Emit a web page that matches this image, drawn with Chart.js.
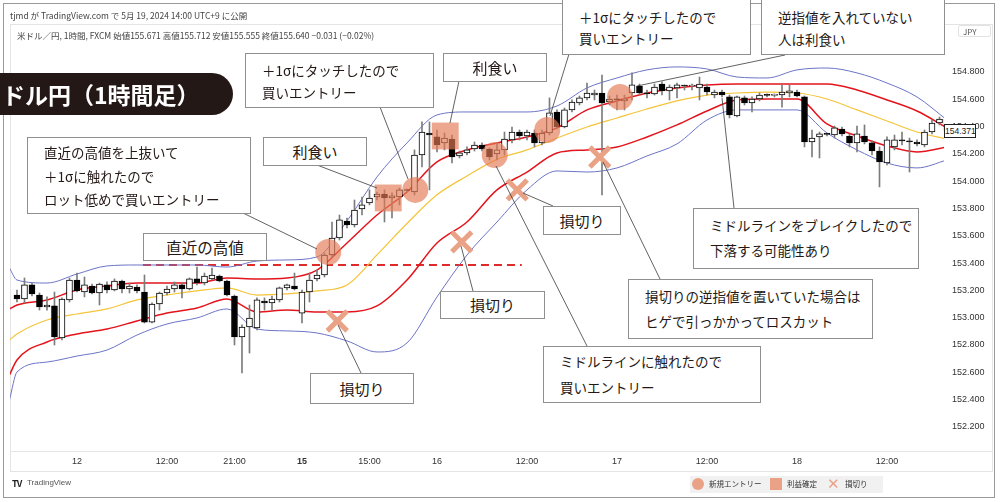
<!DOCTYPE html>
<html lang="ja">
<head>
<meta charset="utf-8">
<title>ドル円（1時間足）</title>
<script src="https://cdn.jsdelivr.net/npm/chart.js@4.4.1/dist/chart.umd.min.js"></script>
<style>
  body { margin: 0; background: #fff; }
  #wrap { position: relative; width: 1000px; height: 502px; overflow: hidden; font-family: "Noto Sans CJK JP", "Noto Sans", sans-serif; color: #231815; }
  canvas { position: absolute; left: 0; top: 0; }
  .abs { position: absolute; white-space: nowrap; }
  .frame { position: absolute; box-sizing: border-box; }
  .note { position: absolute; box-sizing: border-box; background: #fff; border: 1px solid #8f8f8f; font-size: 13.5px; padding-left: 16px; white-space: nowrap; }
  .note.one { padding: 0; text-align: center; font-size: 15px; }
  .hdr { font-size: 8.5px; color: #444; }
  .leg { font-size: 7.5px; line-height: 12px; color: #333; }
</style>
</head>
<body>
<div id="wrap">
  <div class="frame" style="left:3px;top:3px;width:992px;height:495px;border:1px solid #9a9a9a"></div>
  <div class="frame" style="left:10px;top:24px;width:983px;height:448px;border:1px solid #e4e4e4"></div>
  <div class="frame" style="left:10px;top:451px;width:983px;height:1px;background:#e6e6e6"></div>

  <canvas id="chart" width="1000" height="502"></canvas>

  <div class="abs hdr" style="left:10px;top:9px">tjmd が TradingView.com で 5月 19, 2024 14:00 UTC+9 に公開</div>
  <div class="abs hdr" style="left:17px;top:29px">米ドル／円, 1時間, FXCM 始値155.671 高値155.712 安値155.555 終値155.640 −0.031 (−0.02%)</div>
  <div class="abs" style="left:958px;top:25px;width:33px;height:12px;border:1px solid #e2e2e2;border-radius:2px;font-size:8px;line-height:12px;color:#555;padding-left:4px;box-sizing:border-box">JPY</div>
  <div class="abs" style="left:944px;top:124px;width:32px;height:14px;border:1px solid #222;background:#fff;font-size:8.5px;line-height:12px;text-align:center;box-sizing:border-box;font-family:'Liberation Sans',sans-serif">154.371</div>

  <div class="abs" style="left:-30px;top:73px;width:263px;height:42px;background:#231815;border-radius:21px"></div>
  <div class="abs" style="left:2px;top:73px;height:42px;line-height:42px;color:#fff;font-size:23px;font-weight:bold">ドル円（1時間足）</div>

  <div class="note" style="left:27px;top:137px;width:224px;height:77px;padding-top:3px;line-height:23.5px">直近の高値を上抜いて<br>＋1σに触れたので<br>ロット低めで買いエントリー</div>
  <div class="note one" style="left:143px;top:233px;width:124px;height:28px;line-height:26px;font-size:15.5px">直近の高値</div>
  <div class="note one" style="left:263px;top:137px;width:104px;height:29px;line-height:27px">利食い</div>
  <div class="note" style="left:245px;top:53px;width:189px;height:55px;padding-top:5px;line-height:22px">＋1σにタッチしたので<br>買いエントリー</div>
  <div class="note one" style="left:443px;top:53px;width:104px;height:29px;line-height:27px">利食い</div>
  <div class="note" style="left:562px;top:-1px;width:189px;height:56px;padding-top:7px;line-height:21px">＋1σにタッチしたので<br>買いエントリー</div>
  <div class="note" style="left:761px;top:-1px;width:184px;height:56px;padding-top:6px;line-height:22px">逆指値を入れていない<br>人は利食い</div>
  <div class="note one" style="left:440px;top:291px;width:105px;height:28px;line-height:26px">損切り</div>
  <div class="note one" style="left:543px;top:206px;width:78px;height:29px;line-height:27px">損切り</div>
  <div class="note" style="left:693px;top:208px;width:226px;height:61px;padding-top:4px;line-height:25px">ミドルラインをブレイクしたので<br>下落する可能性あり</div>
  <div class="note" style="left:628px;top:279px;width:245px;height:60px;padding-top:4px;line-height:25px">損切りの逆指値を置いていた場合は<br>ヒゲで引っかかってロスカット</div>
  <div class="note" style="left:543px;top:346px;width:218px;height:57px;padding-top:1px;line-height:26px">ミドルラインに触れたので<br>買いエントリー</div>
  <div class="note one" style="left:310px;top:373px;width:104px;height:31px;line-height:29px">損切り</div>

  <div class="abs" style="left:12px;top:477px;font-size:9px;color:#222;font-weight:bold;letter-spacing:-1px">TV</div>
  <div class="abs" style="left:27px;top:478px;font-size:8px;color:#555;font-family:'Liberation Sans',sans-serif">TradingView</div>

  <div class="abs" style="left:690px;top:476px;width:193px;height:17px;background:#f1f1f1"></div>
  <div class="abs" style="left:692px;top:478px;width:12px;height:12px;border-radius:6px;background:#eaa286"></div>
  <div class="abs leg" style="left:709px;top:478px">新規エントリー</div>
  <div class="abs" style="left:770px;top:478px;width:12px;height:12px;background:#eaa286"></div>
  <div class="abs leg" style="left:787px;top:478px">利益確定</div>
  <div class="abs" style="left:827px;top:474px;font-size:15px;line-height:18px;color:#eaa286">✕</div>
  <div class="abs leg" style="left:845px;top:478px">損切り</div>
</div>

<script>
// ── AXES
const xTickIdx = [8, 20, 29, 38, 47, 56, 68, 80, 92, 104, 116];
const xTickLabels = ["12", "12:00", "21:00", "15", "15:00", "16", "12:00", "17", "12:00", "18", "12:00"];
const yTicks = [152.2, 152.4, 152.6, 152.8, 153.0, 153.2, 153.4, 153.6, 153.8, 154.0, 154.2, 154.4, 154.6, 154.8];

// ── CANDLES (1 hour each)
const opens = [
  153.166, 153.137, 153.240, 153.166, 153.078, 153.086, 152.851, 153.130, 153.276, 153.188,
  153.232, 153.181, 153.240, 153.203, 153.269, 153.210, 153.225, 153.188, 152.968, 153.100,
  153.181, 153.210, 153.240, 153.210, 153.284, 153.254, 153.284, 153.305, 153.269, 153.159,
  152.859, 152.932, 152.925, 153.122, 153.108, 153.130, 153.218, 153.232, 153.034, 153.188,
  153.284, 153.313, 153.459, 153.584, 153.708, 153.679, 153.796, 153.840, 153.884, 153.906,
  153.877, 153.884, 153.936, 153.921, 154.192, 154.353, 154.324, 154.280, 154.309, 154.185,
  154.207, 154.236, 154.265, 154.236, 154.199, 154.229, 154.302, 154.360, 154.331, 154.353,
  154.280, 154.353, 154.507, 154.397, 154.522, 154.573, 154.610, 154.631, 154.646, 154.580,
  154.602, 154.588, 154.646, 154.697, 154.646, 154.639, 154.712, 154.661, 154.683, 154.697,
  154.697, 154.683, 154.690, 154.631, 154.653, 154.617, 154.478, 154.610, 154.573, 154.602,
  154.631, 154.628, 154.631, 154.646, 154.653, 154.617, 154.287, 154.324, 154.346, 154.338,
  154.382, 154.331, 154.280, 154.331, 154.280, 154.221, 154.133, 154.251, 154.295, 154.295,
  154.287, 154.265, 154.360, 154.426, 154.455
];
const highs = [
  153.203, 153.291, 153.254, 153.181, 153.152, 153.188, 153.145, 153.291, 153.327, 153.298,
  153.247, 153.254, 153.262, 153.284, 153.276, 153.254, 153.240, 153.313, 153.108, 153.188,
  153.232, 153.262, 153.254, 153.291, 153.371, 153.327, 153.364, 153.313, 153.276, 153.166,
  152.947, 153.093, 153.145, 153.145, 153.159, 153.225, 153.247, 153.327, 153.203, 153.327,
  153.349, 153.474, 153.701, 153.752, 153.730, 153.862, 153.884, 153.936, 153.921, 153.936,
  153.914, 153.950, 153.943, 154.229, 154.434, 154.434, 154.375, 154.353, 154.338, 154.221,
  154.251, 154.287, 154.280, 154.243, 154.280, 154.360, 154.397, 154.375, 154.375, 154.375,
  154.375, 154.610, 154.522, 154.536, 154.595, 154.624, 154.719, 154.668, 154.778, 154.624,
  154.631, 154.631, 154.793, 154.712, 154.668, 154.712, 154.727, 154.705, 154.719, 154.705,
  154.712, 154.763, 154.712, 154.668, 154.668, 154.631, 154.624, 154.624, 154.617, 154.646,
  154.639, 154.639, 154.705, 154.705, 154.668, 154.624, 154.375, 154.360, 154.353, 154.404,
  154.397, 154.346, 154.404, 154.412, 154.295, 154.251, 154.324, 154.338, 154.360, 154.316,
  154.302, 154.375, 154.448, 154.470, 154.470
];
const lows = [
  153.115, 153.108, 153.159, 153.056, 153.056, 152.800, 152.837, 153.115, 153.188, 153.152,
  153.174, 153.093, 153.181, 153.196, 153.181, 153.181, 153.181, 152.961, 152.961, 153.056,
  153.166, 153.188, 153.145, 153.203, 153.240, 153.240, 153.276, 153.262, 153.159, 152.800,
  152.595, 152.741, 152.910, 153.056, 153.056, 153.115, 153.203, 153.203, 152.961, 153.115,
  153.269, 153.298, 153.445, 153.569, 153.657, 153.664, 153.752, 153.826, 153.862, 153.701,
  153.730, 153.826, 153.921, 153.899, 154.104, 153.936, 154.214, 154.229, 154.133, 154.170,
  154.192, 154.221, 154.221, 154.155, 154.155, 154.192, 154.280, 154.302, 154.302, 154.251,
  154.265, 154.338, 154.382, 154.390, 154.507, 154.558, 154.595, 154.595, 153.899, 154.558,
  154.522, 154.522, 154.595, 154.631, 154.610, 154.631, 154.631, 154.595, 154.610, 154.668,
  154.668, 154.595, 154.631, 154.610, 154.617, 154.463, 154.470, 154.558, 154.507, 154.588,
  154.617, 154.617, 154.543, 154.617, 154.617, 154.251, 154.177, 154.170, 154.331, 154.316,
  154.331, 154.251, 154.214, 154.273, 154.192, 153.958, 154.119, 154.229, 154.265, 154.067,
  154.258, 154.251, 154.346, 154.412, 154.331
];
const closes = [
  153.137, 153.240, 153.174, 153.078, 153.093, 152.859, 153.137, 153.276, 153.196, 153.240,
  153.181, 153.247, 153.203, 153.269, 153.210, 153.232, 153.196, 152.968, 153.100, 153.181,
  153.210, 153.240, 153.210, 153.284, 153.254, 153.305, 153.313, 153.269, 153.166, 152.859,
  152.932, 152.998, 153.130, 153.108, 153.137, 153.218, 153.240, 153.210, 153.188, 153.276,
  153.313, 153.459, 153.584, 153.716, 153.679, 153.789, 153.826, 153.877, 153.906, 153.877,
  153.892, 153.936, 153.932, 154.192, 154.360, 154.338, 154.265, 154.316, 154.177, 154.207,
  154.229, 154.265, 154.236, 154.177, 154.229, 154.309, 154.360, 154.331, 154.360, 154.280,
  154.353, 154.500, 154.397, 154.522, 154.580, 154.610, 154.646, 154.646, 154.573, 154.602,
  154.595, 154.602, 154.705, 154.646, 154.639, 154.690, 154.661, 154.690, 154.705, 154.697,
  154.700, 154.712, 154.653, 154.653, 154.631, 154.485, 154.617, 154.573, 154.602, 154.631,
  154.628, 154.631, 154.653, 154.661, 154.624, 154.287, 154.316, 154.346, 154.343, 154.390,
  154.346, 154.280, 154.346, 154.287, 154.221, 154.141, 154.302, 154.302, 154.295, 154.287,
  154.273, 154.360, 154.426, 154.455, 154.371
];

// ── BOLLINGER BANDS (read every 4 candles)
const bandIdx = [-1, 0, 4, 8, 12, 16, 20, 24, 28, 32, 36, 40, 44, 48, 52, 56, 60, 64, 68, 72, 76, 80, 84, 88, 92, 96, 100, 104, 108, 112, 116, 120, 124];
const upper2 = [153.364, 153.276, 153.254, 153.320, 153.379, 153.386, 153.386, 153.386, 153.371, 153.415, 153.423, 153.445, 153.708, 154.031, 154.280, 154.485, 154.507, 154.507, 154.507, 154.551, 154.683, 154.756, 154.815, 154.837, 154.822, 154.763, 154.756, 154.815, 154.829, 154.793, 154.719, 154.617, 154.448];
const upper1 = [153.064, 153.093, 153.130, 153.203, 153.232, 153.254, 153.254, 153.254, 153.291, 153.284, 153.291, 153.349, 153.547, 153.752, 153.921, 154.141, 154.229, 154.280, 154.324, 154.390, 154.522, 154.588, 154.646, 154.683, 154.705, 154.712, 154.712, 154.712, 154.712, 154.668, 154.595, 154.514, 154.390];
const middle = [152.837, 152.881, 152.983, 153.027, 153.064, 153.130, 153.166, 153.196, 153.218, 153.166, 153.174, 153.196, 153.240, 153.460, 153.690, 153.900, 154.038, 154.160, 154.229, 154.316, 154.397, 154.463, 154.529, 154.588, 154.631, 154.646, 154.653, 154.646, 154.602, 154.522, 154.441, 154.360, 154.309];
const lower1 = [152.580, 152.690, 152.822, 152.881, 152.917, 152.976, 153.034, 153.071, 153.137, 153.042, 153.056, 153.042, 153.042, 153.086, 153.276, 153.547, 153.701, 153.936, 154.067, 154.207, 154.229, 154.251, 154.324, 154.412, 154.514, 154.595, 154.602, 154.602, 154.419, 154.331, 154.258, 154.214, 154.251];
const lower2 = [152.397, 152.602, 152.675, 152.719, 152.763, 152.873, 152.954, 152.998, 153.064, 152.917, 152.903, 152.888, 152.830, 152.749, 152.815, 153.152, 153.459, 153.701, 153.936, 154.075, 154.067, 154.097, 154.185, 154.273, 154.448, 154.522, 154.522, 154.522, 154.353, 154.229, 154.133, 154.097, 154.155];

// ── TRADE MARKERS
const recentHigh = 153.386;
const recentHighSpan = [16.8, 67.3];
const entryIdx = [41.5, 53.1, 63.7, 70.7, 80.4];
const entryPrice = [153.481, 153.936, 154.192, 154.375, 154.617];
const exitIdx = [49.5, 57.1];
const exitPrice = [153.877, 154.331];
const stopIdx = [42.7, 59.3, 66.7, 77.7];
const stopPrice = [152.976, 153.555, 153.936, 154.177];

// leader lines from the note boxes (page pixels)
const leaders = [
  [243, 213, 317, 249], [317, 165, 377, 188], [380, 107, 408, 179], [459, 81, 450, 123],
  [569, 54, 550, 116], [785, 55, 637, 86], [338, 325, 361, 373], [461, 246, 473, 291],
  [523, 193, 553, 206], [722, 98, 734, 208], [603, 162, 660, 279], [496, 166, 587, 346]
];

const FONT = "'Liberation Sans', 'Noto Sans', sans-serif";
const SALMON = "rgba(226,122,84,0.66)";
const pts = (xs, ys) => xs.map((x, i) => ({ x, y: ys[i] }));

const leaderLines = {
  id: "leaderLines",
  afterDatasetsDraw(chart) {
    const ctx = chart.ctx;
    ctx.save();
    ctx.strokeStyle = "#3a3a3a";
    ctx.lineWidth = 0.8;
    leaders.forEach(([x1, y1, x2, y2]) => {
      ctx.beginPath();
      ctx.moveTo(x1, y1);
      ctx.lineTo(x2, y2);
      ctx.stroke();
    });
    ctx.restore();
  }
};

const bandLine = (values, color, width) => ({
  type: "line",
  data: pts(bandIdx, values),
  borderColor: color,
  borderWidth: width,
  pointRadius: 0,
  cubicInterpolationMode: "monotone",
  order: 3
});

new Chart(document.getElementById("chart"), {
  type: "bar",
  data: {
    datasets: [
      {
        type: "line", data: pts(entryIdx, entryPrice), showLine: false,
        pointStyle: "circle", pointRadius: 13, pointBackgroundColor: SALMON, pointBorderWidth: 0, order: 0
      },
      {
        type: "line", data: pts(exitIdx, exitPrice), showLine: false,
        pointStyle: "rect", pointRadius: 19, pointBackgroundColor: SALMON, pointBorderWidth: 0, order: 0
      },
      {
        type: "line", data: pts(stopIdx, stopPrice), showLine: false,
        pointStyle: "crossRot", pointRadius: 14, pointBorderColor: "#eaa286", pointBorderWidth: 5, order: 0
      },
      {
        data: opens.map((o, i) => ({ x: i, y: [o, closes[i]] })),
        backgroundColor: opens.map((o, i) => closes[i] > o ? "#ffffff" : "#000000"),
        borderColor: "#000000",
        borderWidth: 1,
        borderSkipped: false,
        barThickness: 6,
        minBarLength: 1,
        grouped: false,
        order: 1
      },
      {
        data: lows.map((l, i) => ({ x: i, y: [l, highs[i]] })),
        backgroundColor: "#7c7c7c",
        borderWidth: 0,
        barThickness: 1,
        grouped: false,
        order: 2
      },
      bandLine(upper2, "#6c74c6", 1),
      bandLine(upper1, "#e3141c", 1.5),
      bandLine(middle, "#f5c43a", 1.2),
      bandLine(lower1, "#e3141c", 1.5),
      bandLine(lower2, "#6c74c6", 1),
      {
        type: "line",
        data: recentHighSpan.map((x) => ({ x, y: recentHigh })),
        borderColor: "#e02a2a",
        borderWidth: 2,
        borderDash: [8, 5],
        pointRadius: 0,
        order: 3
      }
    ]
  },
  options: {
    responsive: false,
    animation: false,
    events: [],
    layout: { autoPadding: false, padding: { left: 10, top: 25, right: 7, bottom: 31 } },
    plugins: { legend: { display: false }, tooltip: { enabled: false } },
    scales: {
      x: {
        type: "linear",
        min: -0.93,
        max: 123.6,
        offset: false,
        grid: { display: false, drawTicks: false },
        border: { display: false },
        afterBuildTicks: (s) => { s.ticks = xTickIdx.map((v) => ({ value: v })); },
        afterFit: (s) => { s.height = 20; s.paddingLeft = 0; s.paddingRight = 0; },
        ticks: {
          autoSkip: false,
          maxRotation: 0,
          padding: 5,
          color: "#333",
          font: (c) => ({ family: FONT, size: 9, weight: c.tick && c.tick.label === "15" ? "bold" : "normal" }),
          callback: (v) => xTickLabels[xTickIdx.indexOf(v)]
        }
      },
      y: {
        position: "right",
        min: 152.0235,
        max: 155.144,
        beginAtZero: false,
        grid: { display: false, drawTicks: false },
        border: { display: false },
        afterBuildTicks: (s) => { s.ticks = yTicks.map((v) => ({ value: v })); },
        afterFit: (s) => { s.width = 49; s.paddingTop = 0; s.paddingBottom = 0; },
        ticks: {
          padding: 8,
          color: "#333",
          font: { family: FONT, size: 9 },
          callback: (v) => v.toFixed(3)
        }
      }
    }
  },
  plugins: [leaderLines]
});
</script>
</body>
</html>
